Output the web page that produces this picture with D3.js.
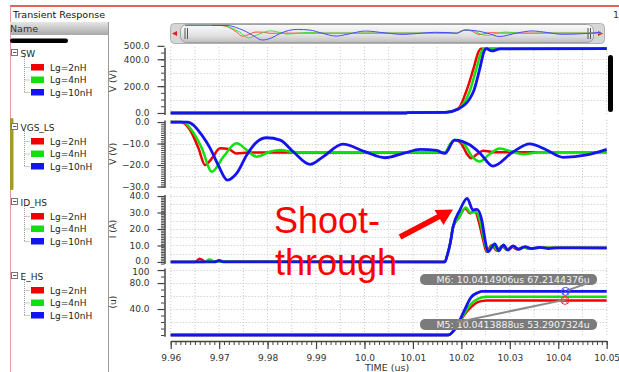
<!DOCTYPE html>
<html>
<head>
<meta charset="utf-8">
<script src="https://cdn.jsdelivr.net/npm/d3@7"></script>
<style>
  body { margin: 0; background: #fff; }
  svg { display: block; font-family: "DejaVu Sans", Verdana, sans-serif; }
</style>
</head>
<body>
<div id="chart"></div>
<script>
// ---------Data----------

const seriesNames = ["Lg=2nH", "Lg=4nH", "Lg=10nH"];
const seriesColors = ["#f00000", "#10e010", "#1414f0"];
const timeTicks = [9.96, 9.97, 9.98, 9.99, 10.0, 10.01, 10.02, 10.03, 10.04, 10.05];
const timeTickLabels = ["9.96", "9.97", "9.98", "9.99", "10.0", "10.01", "10.02", "10.03", "10.04", "10.05"];

// SW (V): [time us, volts]
const swRed = [[9.96, 0], [10.0085, 0], [10.009, 3], [10.0166, 4], [10.0194, 35], [10.021, 160], [10.0225, 330], [10.0236, 460], [10.024, 478], [10.026, 479], [10.05, 480]];
const swGreen = [[9.96, 0], [10.0085, 0], [10.009, 3], [10.0166, 4], [10.0194, 33], [10.0217, 160], [10.0231, 330], [10.0242, 460], [10.0246, 478], [10.027, 479], [10.05, 480]];
const swBlue = [[9.96, 0], [10.0085, 0], [10.009, 3], [10.0166, 4], [10.0194, 30], [10.0225, 160], [10.0238, 330], [10.0247, 460], [10.0251, 480], [10.0263, 462], [10.028, 478], [10.05, 480]];

// VGS_LS (V)
const vgsRed = [[9.96, 0], [9.962, 0], [9.964, -3.7], [9.9657, -12], [9.9671, -20], [9.9685, -16.9], [9.9702, -12.2], [9.9719, -12.5], [9.9736, -14.6], [9.976, -14.2], [10.0166, -14.2], [10.0178, -10], [10.0186, -8.4], [10.0198, -9.5], [10.0212, -15], [10.022, -16.9], [10.0232, -15], [10.0245, -13.3], [10.027, -14.1], [10.05, -14.1]];
const vgsGreen = [[9.96, 0], [9.9625, 0], [9.9643, -3.7], [9.9664, -12], [9.9685, -23.1], [9.9709, -16.1], [9.9736, -9.9], [9.9757, -13], [9.9777, -16.1], [9.9805, -13.8], [9.9825, -13], [9.986, -14.1], [10.0166, -14.1], [10.0178, -10], [10.0188, -8.4], [10.0205, -10], [10.0222, -16], [10.0238, -18.4], [10.0258, -15], [10.0279, -12.3], [10.0305, -13.8], [10.0327, -14.9], [10.036, -14.1], [10.05, -14.1]];
const vgsBlue = [[9.96, 0], [9.9635, 0], [9.9647, -1.4], [9.9664, -6], [9.9681, -12], [9.9698, -20], [9.9717, -27], [9.9736, -23.9], [9.9757, -15.3], [9.9778, -9.2], [9.9798, -7.3], [9.9826, -8.4], [9.9853, -13.8], [9.9888, -19.7], [9.9915, -16.1], [9.9955, -10.3], [10.0001, -13.8], [10.0042, -16.6], [10.008, -14.6], [10.0115, -12.7], [10.0149, -13.2], [10.0166, -14.6], [10.0186, -8.4], [10.0218, -10.7], [10.0239, -14.6], [10.0265, -20.5], [10.0307, -13.8], [10.0341, -10.2], [10.0376, -13], [10.041, -16.4], [10.0459, -15.3], [10.05, -12.7]];

// ID_HS (A)
const idRed = [[9.96, 0], [9.965, 0], [9.966, 2], [9.967, 0.3], [10.0166, 0], [10.017, 3.2], [10.0177, 11.3], [10.0183, 21.4], [10.0194, 26.5], [10.0208, 32.5], [10.0218, 29.5], [10.0228, 31.1], [10.0235, 25.5], [10.0245, 13.3], [10.0252, 6.2], [10.0263, 10.3], [10.0273, 6.8], [10.0284, 9.7], [10.0294, 7.3], [10.0304, 9.3], [10.0315, 7.7], [10.0328, 8.9], [10.034, 8.1], [10.036, 8.6], [10.05, 8.5]];
const idGreen = [[9.96, 0], [9.967, 0], [9.968, 1.5], [9.969, 0.2], [10.0166, 0], [10.017, 3.2], [10.0177, 11.3], [10.0183, 21.4], [10.0195, 27], [10.0209, 33], [10.0219, 29.8], [10.023, 30.5], [10.0238, 25.5], [10.0247, 13.3], [10.0254, 6.2], [10.0265, 10.5], [10.0275, 6.8], [10.0286, 9.8], [10.0296, 7.3], [10.0306, 9.4], [10.0317, 7.7], [10.033, 8.9], [10.0342, 8.1], [10.036, 8.6], [10.05, 8.5]];
const idBlue = [[9.96, 0], [9.969, 0], [9.970, 1], [9.971, 0], [10.0166, 0], [10.017, 3.2], [10.0177, 11.3], [10.0183, 21.4], [10.0197, 31.5], [10.0212, 38.6], [10.0224, 31.5], [10.0232, 31.9], [10.0242, 25.5], [10.0249, 13.3], [10.0255, 6.2], [10.0269, 10.9], [10.0277, 6.8], [10.0287, 10.3], [10.0296, 7.3], [10.0307, 9.7], [10.0318, 7.7], [10.0331, 9.3], [10.0345, 8.1], [10.0362, 8.9], [10.038, 8.1], [10.04, 8.6], [10.05, 8.5]];

// E_HS (u)
const eRed = [[9.96, 0], [10.0173, 0], [10.019, 12], [10.0205, 30], [10.022, 43], [10.0235, 51], [10.0252, 53.3], [10.05, 53.3]];
const eGreen = [[9.96, 0], [10.0173, 0], [10.019, 12], [10.0205, 32], [10.022, 48], [10.0235, 56], [10.0252, 59], [10.05, 59]];
const eBlue = [[9.96, 0], [10.0173, 0], [10.019, 13], [10.0205, 36], [10.022, 58], [10.0235, 65.5], [10.0242, 67.2], [10.05, 67.2]];

// markers
const markerNames = ["M6", "M5"];
const markerTimes = [10.0414906, 10.0413888];
const markerValues = [67.2144376, 53.2907324];
const markerColors = ["#4a4aff", "#ff3030"];

// ---------Layout----------

const width = 619;
const height = 372;
const uiFont = "'DejaVu Sans', Verdana, sans-serif";

const svg = d3.select("#chart")
  .append("svg")
  .attr("width", width)
  .attr("height", height);

const defs = svg.append("defs");

defs.append("clipPath").attr("id", "plotClip")
  .append("rect").attr("x", 169).attr("y", 40).attr("width", 441).attr("height", 300);

const gradGray = defs.append("linearGradient").attr("id", "gradGray").attr("x1", 0).attr("y1", 0).attr("x2", 0).attr("y2", 1);
gradGray.append("stop").attr("offset", "0%").attr("stop-color", "#e6e6e6");
gradGray.append("stop").attr("offset", "100%").attr("stop-color", "#a9a9a9");

const gradThumb = defs.append("linearGradient").attr("id", "gradThumb").attr("x1", 0).attr("y1", 0).attr("x2", 0).attr("y2", 1);
gradThumb.append("stop").attr("offset", "0%").attr("stop-color", "#fafafa");
gradThumb.append("stop").attr("offset", "60%").attr("stop-color", "#e2e2e2");
gradThumb.append("stop").attr("offset", "100%").attr("stop-color", "#bdbdbd");

// time scale
const x = d3.scaleLinear()
  .domain([9.96, 10.05])
  .range([170.7, 606.7]);

// ---------Frame and header----------

svg.append("line")
  .attr("x1", 10).attr("y1", 6).attr("x2", width).attr("y2", 6)
  .attr("stroke", "#e02828").attr("stroke-width", 1.5);
svg.append("line")
  .attr("x1", 10.5).attr("y1", 6).attr("x2", 10.5).attr("y2", height)
  .attr("stroke", "#e79a9a").attr("stroke-width", 1);

svg.append("text")
  .attr("x", 13).attr("y", 18)
  .style("font-size", "9.5px").style("fill", "#111")
  .text("Transient Response");

svg.append("text")
  .attr("x", 613).attr("y", 18)
  .style("font-size", "9.5px").style("fill", "#333")
  .text("1");

// left name panel
svg.append("rect")
  .attr("x", 10).attr("y", 22).attr("width", 98).attr("height", 13)
  .attr("fill", "url(#gradGray)");
svg.append("text")
  .attr("x", 10).attr("y", 32)
  .style("font-size", "9.5px").style("fill", "#333")
  .text("Name");
svg.append("line")
  .attr("x1", 108.5).attr("y1", 22).attr("x2", 108.5).attr("y2", height)
  .attr("stroke", "#9a9a9a");
svg.append("rect")
  .attr("x", 10).attr("y", 38.5).attr("width", 58).attr("height", 4.5).attr("rx", 2.2)
  .attr("fill", "#000");
svg.append("rect")
  .attr("x", 10).attr("y", 118).attr("width", 3.5).attr("height", 72).attr("rx", 1.5)
  .attr("fill", "#a39a2c");

// ---------Panels----------

const panels = [
  { name: "SW", label: "V (V)", data: [swRed, swGreen, swBlue], domain: [-12, 490], range: [114.6, 47.2],
    labels: [0, 200, 400, 500], minor: 50, grid: [100, 200, 300, 400], legendY: 53 },
  { name: "VGS_LS", label: "V (V)", data: [vgsRed, vgsGreen, vgsBlue], domain: [-30.5, 1], range: [187.6, 119.9],
    labels: [0, -10, -20, -30], minor: 1, grid: [-5, -10, -15, -20, -25, -30], legendY: 127 },
  { name: "ID_HS", label: "I (A)", data: [idRed, idGreen, idBlue], domain: [-1, 41], range: [263.6, 194.4],
    labels: [0, 10, 20, 30, 40], minor: 1, grid: [5, 10, 15, 20, 25, 30, 35, 40], legendY: 202 },
  { name: "E_HS", label: "(u)", data: [eRed, eGreen, eBlue], domain: [-2, 103], range: [336.3, 268.1],
    labels: [40, 80, 100], minor: 10, grid: [20, 40, 60, 80, 100], legendY: 276 }
];

const fmtTick = d => (d === 100 ? "100" : d3.format(".1f")(d));

panels.forEach((p, pi) => {
  const y = d3.scaleLinear().domain(p.domain).range(p.range);
  p.y = y;
  const g = svg.append("g");

  // grid
  g.selectAll(".vgrid")
    .data(x.ticks(18))
    .enter()
    .append("line")
    .attr("x1", d => x(d)).attr("x2", d => x(d))
    .attr("y1", p.range[1]).attr("y2", p.range[0])
    .attr("stroke", "#c4c4c4").attr("stroke-dasharray", "1,2");
  g.selectAll(".hgrid")
    .data(p.grid)
    .enter()
    .append("line")
    .attr("x1", x.range()[0]).attr("x2", x.range()[1])
    .attr("y1", d => Math.round(y(d)) + 0.5).attr("y2", d => Math.round(y(d)) + 0.5)
    .attr("stroke", "#c4c4c4").attr("stroke-dasharray", "1,2");

  // minor ticks
  const minorVals = d3.range(Math.ceil(p.domain[0] / p.minor) * p.minor, p.domain[1], p.minor);
  g.append("g")
    .attr("transform", "translate(164.5,0)")
    .call(d3.axisLeft(y).tickValues(minorVals).tickSize(3.5).tickSizeOuter(0).tickFormat(""))
    .call(a => a.selectAll("line").attr("stroke", "#444"))
    .call(a => a.select(".domain").attr("stroke", "#444").attr("stroke-width", 1.5));

  // major ticks + labels
  g.append("g")
    .attr("transform", "translate(164.5,0)")
    .call(d3.axisLeft(y).tickValues(p.labels).tickSize(7).tickSizeOuter(0).tickPadding(8).tickFormat(fmtTick))
    .call(a => a.select(".domain").remove())
    .call(a => a.selectAll("line").attr("stroke", "#444").attr("stroke-width", 1.2))
    .call(a => a.selectAll("text")
      .style("font-size", "9px")
      .style("fill", "#333")
      .style("font-family", uiFont)
      // labels at the panel edges sit a little apart, as in the reference
      .attr("y", d => (d === p.domain[0] + (pi === 2 ? 1 : 0) && pi === 2 ? -1.5 : (pi === 3 && d === 100 ? 1.5 : 0))));

  // axis title
  const cy = (p.range[0] + p.range[1]) / 2;
  g.append("text")
    .attr("transform", `translate(116,${cy}) rotate(-90)`)
    .attr("text-anchor", "middle")
    .style("font-size", "9px")
    .style("fill", "#333")
    .text(p.label);

  // waveforms
  const line = d3.line()
    .x(d => x(d[0]))
    .y(d => y(d[1]))
    .curve(d3.curveMonotoneX);

  g.append("g")
    .attr("clip-path", "url(#plotClip)")
    .selectAll("path")
    .data(p.data)
    .enter()
    .append("path")
    .attr("d", line)
    .attr("fill", "none")
    .attr("stroke", (d, i) => seriesColors[i])
    .attr("stroke-width", (d, i) => (i === 2 ? 2.8 : 2.5))
    .attr("stroke-linejoin", "round");

  // legend entry in the name panel
  const lg = svg.append("g").attr("transform", `translate(0,${p.legendY})`);
  lg.append("rect")
    .attr("x", 11.5).attr("y", -3.5).attr("width", 6).attr("height", 6)
    .attr("fill", "#fff").attr("stroke", "#777");
  lg.append("line")
    .attr("x1", 13).attr("x2", 16.5).attr("y1", -0.5).attr("y2", -0.5)
    .attr("stroke", "#555");
  lg.append("text")
    .attr("x", 20.5).attr("y", 3.5)
    .style("font-size", "9px").style("fill", "#222")
    .text(p.name);
  lg.append("line")
    .attr("x1", 24.5).attr("x2", 24.5).attr("y1", 4).attr("y2", 39)
    .attr("stroke", "#999").attr("stroke-dasharray", "1,1");
  const items = lg.selectAll(".item")
    .data(seriesNames)
    .enter()
    .append("g")
    .attr("transform", (d, i) => `translate(0,${14 + i * 12.5})`);
  items.append("line")
    .attr("x1", 24.5).attr("x2", 30).attr("y1", 0.5).attr("y2", 0.5)
    .attr("stroke", "#999").attr("stroke-dasharray", "1,1");
  items.append("rect")
    .attr("x", 31).attr("y", -3).attr("width", 13).attr("height", 6.5)
    .attr("fill", (d, i) => seriesColors[i]);
  items.append("text")
    .attr("x", 50).attr("y", 3.5)
    .style("font-size", "9px").style("fill", "#222")
    .text(d => d);
});

// ---------Time axis----------

svg.append("g")
  .attr("transform", "translate(0,341)")
  .call(d3.axisBottom(x).ticks(90).tickSize(4).tickSizeOuter(0).tickFormat(""))
  .call(a => a.selectAll("line").attr("stroke", "#444"))
  .call(a => a.select(".domain").attr("stroke", "#444").attr("stroke-width", 1.5));

svg.append("g")
  .attr("transform", "translate(0,341)")
  .call(d3.axisBottom(x).tickValues(timeTicks).tickSize(8).tickSizeOuter(0).tickPadding(6)
    .tickFormat((d, i) => timeTickLabels[i]))
  .call(a => a.select(".domain").remove())
  .call(a => a.selectAll("line").attr("stroke", "#444").attr("stroke-width", 1.2))
  .call(a => a.selectAll("text")
    .style("font-size", "9px")
    .style("fill", "#333")
    .style("font-family", uiFont));

svg.append("text")
  .attr("x", 365).attr("y", 371)
  .style("font-size", "9.5px").style("fill", "#333")
  .text("TIME (us)");

// ---------Overview bar----------

const xo = d3.scaleLinear().domain([9.9538, 10.0482]).range([185, 593]);
const yo = d3.scaleLinear().domain([-27, 0]).range([40, 25.5]);

svg.append("rect")
  .attr("x", 170.5).attr("y", 23.5).attr("width", 434).attr("height", 20).attr("rx", 4)
  .attr("fill", "#d6d6d6").attr("stroke", "#b0b0b0");
svg.append("rect")
  .attr("x", 180.5).attr("y", 24.5).attr("width", 413).attr("height", 18).attr("rx", 6)
  .attr("fill", "url(#gradThumb)").attr("stroke", "#a0a0a0");
svg.append("path").attr("d", "M172,33.5 L177,31 L177,36 Z").attr("fill", "#e02020");
svg.append("path").attr("d", "M603,33.5 L598,31 L598,36 Z").attr("fill", "#e02020");
[185, 187.5, 588, 590.5].forEach(gx => {
  svg.append("line")
    .attr("x1", gx).attr("x2", gx).attr("y1", 28).attr("y2", 39)
    .attr("stroke", "#555").attr("stroke-width", 1);
});

const lineO = d3.line()
  .x(d => xo(d[0]))
  .y(d => yo(d[1]))
  .curve(d3.curveMonotoneX);

svg.append("line")
  .attr("x1", xo(9.9538)).attr("x2", xo(9.96))
  .attr("y1", yo(0)).attr("y2", yo(0))
  .attr("stroke", "#6a6aff").attr("stroke-width", 1);

svg.append("g")
  .selectAll("path")
  .data([vgsRed, vgsGreen, vgsBlue])
  .enter()
  .append("path")
  .attr("d", lineO)
  .attr("fill", "none")
  .attr("stroke", (d, i) => ["#ff4a4a", "#3ee03e", "#4a4aff"][i])
  .attr("stroke-width", 1);

// right scroll handle
svg.append("rect")
  .attr("x", 608).attr("y", 55).attr("width", 5).attr("height", 57).attr("rx", 2.5)
  .attr("fill", "#000");

// ---------Markers----------

const eY = panels[3].y;
const boxYs = [274, 319];

markerNames.forEach((m, i) => {
  const mx = x(markerTimes[i]);
  const my = eY(markerValues[i]);
  const by = boxYs[i];

  svg.append("rect")
    .attr("x", 420).attr("y", by).attr("width", 177).attr("height", 11).attr("rx", 5)
    .attr("fill", "#7b7b7b");
  svg.append("text")
    .attr("x", 436.5).attr("y", by + 9)
    .style("font-size", "9.4px").style("fill", "#f2f2f2")
    .text(`${m}: ${markerTimes[i]}us ${markerValues[i]}u`);

  // leader line from box to marker
  const lx = i === 0 ? 588 : 458;
  const ly = i === 0 ? by + 9 : by + 3;
  svg.append("line")
    .attr("x1", lx).attr("y1", ly).attr("x2", mx + 2).attr("y2", my - 1)
    .attr("stroke", "#8a8a8a").attr("stroke-width", 2);

  svg.append("circle")
    .attr("cx", mx).attr("cy", my).attr("r", 4)
    .attr("fill", "none").attr("stroke", markerColors[i]).attr("stroke-width", 1);
  svg.append("line")
    .attr("x1", mx - 2.8).attr("y1", my - 2.8).attr("x2", mx + 2.8).attr("y2", my + 2.8)
    .attr("stroke", markerColors[i]);
  svg.append("line")
    .attr("x1", mx - 2.8).attr("y1", my + 2.8).attr("x2", mx + 2.8).attr("y2", my - 2.8)
    .attr("stroke", markerColors[i]);
});

// ---------Shoot-through annotation----------

const note = svg.append("text")
  .style("font-family", "'Liberation Sans', Arial, sans-serif")
  .style("font-size", "36px")
  .style("fill", "#ff0000");
note.append("tspan").attr("x", 274).attr("y", 232.5).text("Shoot-");
note.append("tspan").attr("x", 275).attr("y", 275).text("through");

svg.append("line")
  .attr("x1", 400).attr("y1", 237).attr("x2", 440).attr("y2", 216)
  .attr("stroke", "#ff0000").attr("stroke-width", 5.5);
svg.append("path")
  .attr("d", "M453,209.5 L434.5,210 L443.5,225 Z")
  .attr("fill", "#ff0000");
</script>
</body>
</html>
